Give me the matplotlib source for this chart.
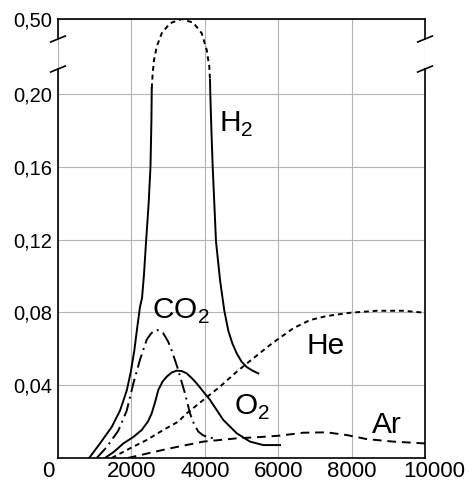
import numpy as np
import matplotlib
matplotlib.use("Agg")
import matplotlib.pyplot as plt
from matplotlib.transforms import ScaledTranslation

plt.rcParams["font.family"] = ["Liberation Sans", "DejaVu Sans"]
plt.rcParams["mathtext.fontset"] = "custom"
plt.rcParams["mathtext.rm"] = "Liberation Sans"

# H2: solid flanks, dashed top (drawn through the broken part of the axis)
h2_left_x = [850, 1144, 1463, 1689, 1872, 1981, 2079, 2161, 2234, 2290, 2340, 2400, 2470, 2520, 2545, 2555]
h2_left_y = [0, 0.008, 0.017, 0.026, 0.037, 0.047, 0.059, 0.072, 0.083, 0.088, 0.100, 0.119, 0.140, 0.16, 0.185, 0.223]
h2_top_x = [2555, 2580, 2616, 2689, 2826, 3052, 3371, 3687, 3916, 4052, 4123, 4142]
h2_top_y = [0.223, 0.283, 0.336, 0.389, 0.443, 0.483, 0.50, 0.485, 0.443, 0.376, 0.309, 0.256]
h2_right_x = [4142, 4150, 4180, 4215, 4305, 4414, 4531, 4640, 4750, 4869, 5000, 5141, 5300, 5458]
h2_right_y = [0.256, 0.2, 0.18, 0.16, 0.119, 0.098, 0.081, 0.070, 0.063, 0.0575, 0.053, 0.050, 0.048, 0.0465]

co2_x = [1054, 1327, 1643, 1872, 2053, 2234, 2417, 2520, 2600, 2700, 2800, 2870, 3000, 3100, 3250, 3460, 3597, 3700, 3823, 3950, 4052, 4232]
co2_y = [0, 0.006, 0.015, 0.026, 0.041, 0.054, 0.065, 0.068, 0.0697, 0.0703, 0.0697, 0.0685, 0.064, 0.059, 0.050, 0.0355, 0.0245, 0.019, 0.0145, 0.0125, 0.0117, 0.0108]

o2_x = [1281, 1530, 1780, 2050, 2281, 2450, 2553, 2650, 2733, 2850, 2962, 3100, 3234, 3370, 3506, 3640, 3779, 4142, 4504, 4869, 5232, 5594, 6050]
o2_y = [0, 0.0035, 0.008, 0.0115, 0.0154, 0.020, 0.0245, 0.031, 0.0374, 0.042, 0.0447, 0.047, 0.048, 0.0478, 0.0465, 0.044, 0.041, 0.0319, 0.0209, 0.0136, 0.009, 0.0071, 0.0071]

he_x = [1463, 1962, 2417, 2870, 3278, 3506, 3960, 4414, 4869, 5322, 5777, 5959, 6413, 6866, 7321, 7956, 8684, 9409, 10000]
he_y = [0, 0.0053, 0.0099, 0.0154, 0.02, 0.0245, 0.0319, 0.0392, 0.0474, 0.0548, 0.0621, 0.0648, 0.0713, 0.0758, 0.078, 0.0798, 0.0809, 0.0809, 0.0798]

ar_x = [1900, 2500, 3050, 3960, 4870, 5500, 6050, 6690, 7320, 7870, 8410, 9140, 10000]
ar_y = [0, 0.0028, 0.0053, 0.009, 0.0108, 0.0115, 0.0123, 0.0139, 0.0141, 0.0126, 0.0104, 0.009, 0.008]

x_ticks = [0, 2000, 4000, 6000, 8000, 10000]
y_ticks = [0.04, 0.08, 0.12, 0.16, 0.20, 0.50]
y_labels = ["0,04", "0,08", "0,12", "0,16", "0,20", "0,50"]

# broken y axis: linear up to 0.2, squeezed above
K = 0.1374
def fwd(y):
    y = np.asarray(y, dtype=float)
    return np.where(y <= 0.2, y, 0.2 + (y - 0.2) * K)

def inv(v):
    v = np.asarray(v, dtype=float)
    return np.where(v <= 0.2, v, 0.2 + (v - 0.2) / K)

BRK_LO, BRK_HI = 0.30, 0.42

fig = plt.figure(figsize=(4.69, 4.87), dpi=100)
ax = fig.add_axes([58 / 469, 29 / 487, 367 / 469, 439 / 487])
ax.set_yscale("function", functions=(fwd, inv))
ax.set_xlim(0, 10000)
ax.set_ylim(0, 0.5)

lw = 1.4
ax.plot(h2_left_x, h2_left_y, color="black", lw=lw)
ax.plot(h2_top_x, h2_top_y, color="black", lw=lw, ls=(0, (2.5, 2)))
ax.plot(h2_right_x, h2_right_y, color="black", lw=lw)
ax.plot(co2_x, co2_y, color="black", lw=lw, ls=(0, (7, 2.5, 1, 2.5)))
ax.plot(o2_x, o2_y, color="black", lw=lw)
ax.plot(he_x, he_y, color="black", lw=lw, ls=(0, (2.5, 2)))
ax.plot(ar_x, ar_y, color="black", lw=lw, ls=(0, (4.5, 3)))

ax.set_xticks(x_ticks)
ax.set_xticklabels([str(t) for t in x_ticks])
ax.set_yticks(y_ticks)
ax.set_yticklabels(y_labels)
ax.tick_params(axis="x", length=0, pad=2, labelsize=16)
ax.tick_params(axis="y", length=0, pad=4, labelsize=14.5)
xlabels = ax.get_xticklabels()
xlabels[0].set_ha("right")
xlabels[0].set_transform(xlabels[0].get_transform() + ScaledTranslation(-4 / 100, 0, fig.dpi_scale_trans))
xlabels[-1].set_transform(xlabels[-1].get_transform() + ScaledTranslation(9 / 100, 0, fig.dpi_scale_trans))

ax.grid(True, color="#b4b4b4", lw=0.8)
ax.set_axisbelow(True)

for s in ["top", "bottom"]:
    ax.spines[s].set_color("black")
    ax.spines[s].set_linewidth(1.2)
ax.spines["left"].set_visible(False)
ax.spines["right"].set_visible(False)

# hand drawn side spines with break marks
tr = ax.get_yaxis_transform()
for xs in [0, 1]:
    ax.plot([xs, xs], [0, BRK_LO], color="black", lw=1.2, transform=tr, clip_on=False)
    ax.plot([xs, xs], [BRK_HI, 0.5], color="black", lw=1.2, transform=tr, clip_on=False)
    for b in [BRK_LO, BRK_HI]:
        ax.plot([xs - 0.02, xs + 0.02], [b - 0.012, b + 0.012], color="black", lw=1.2,
                transform=tr, clip_on=False)

lab = dict(fontsize=21.5, color="black", ha="left", va="baseline")
ax.text(4400, 0.179, r"H$_\mathrm{2}$", **lab)
ax.text(2560, 0.0764, r"CO$_\mathrm{2}$", **lab)
ax.text(6760, 0.0571, "He", **lab)
ax.text(4800, 0.0236, r"O$_\mathrm{2}$", **lab)
ax.text(8560, 0.0137, "Ar", **lab)

fig.savefig("out.png", dpi=100)
